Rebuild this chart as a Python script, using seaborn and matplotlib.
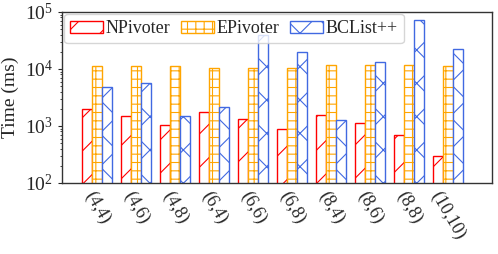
import matplotlib
matplotlib.use("Agg")
import matplotlib.pyplot as plt
import matplotlib.ticker as mticker
import seaborn as sns
import pandas as pd
from matplotlib.patches import Patch

categories = ["(4,4)", "(4,6)", "(4,8)", "(6,4)", "(6,6)", "(6,8)", "(8,4)", "(8,6)", "(8,8)", "(10,10)"]
npivoter = [2000, 1520, 1050, 1780, 1340, 890, 1550, 1120, 700, 300]
epivoter = [11200, 11200, 11200, 10500, 10500, 10500, 11700, 11700, 11700, 11200]
bclist = [4900, 5600, 1520, 2180, 40000, 19500, 1260, 13200, 71000, 22000]
series = ["NPivoter", "EPivoter", "BCList++"]

df = pd.DataFrame({
    "cat": categories * 3,
    "val": npivoter + epivoter + bclist,
    "method": [series[0]] * 10 + [series[1]] * 10 + [series[2]] * 10,
})

sns.set_style("ticks")
plt.rcParams["font.family"] = ["Liberation Serif", "DejaVu Serif"]
plt.rcParams["font.serif"] = ["Liberation Serif", "DejaVu Serif"]
plt.rcParams["mathtext.fontset"] = "custom"
plt.rcParams["mathtext.rm"] = "Liberation Serif"
plt.rcParams["hatch.linewidth"] = 0.8

colors = ["red", "orange", "royalblue"]
hatches = ["/", "++", "x"]

fig, ax = plt.subplots(figsize=(4.98, 2.54), dpi=100)
sns.barplot(data=df, x="cat", y="val", hue="method", palette=colors, ax=ax,
            width=0.77, legend=False, linewidth=1.0)
ax.set_yscale("log")

for cont, col, h in zip(ax.containers, colors, hatches):
    for p in cont:
        p.set_hatch(h)
        p.set_edgecolor(col)
        p.set_facecolor("white")
        p.set_linewidth(1.0)

handles = [Patch(facecolor="white", edgecolor=c, hatch=h, label=s, linewidth=1.0)
           for c, h, s in zip(colors, hatches, series)]
ax.legend(handles=handles, loc="upper left", ncol=3, fontsize=13, handlelength=1.8,
          handleheight=0.65, handletextpad=0.15, columnspacing=0.6, borderpad=0.35,
          borderaxespad=0.1, frameon=True, fancybox=True, framealpha=0.8,
          edgecolor="#cccccc")

ax.set_ylim(100, 100000)
ax.set_xlim(-0.9, 10.12)
ax.set_xlabel("")
ax.set_ylabel("Time (ms)", fontsize=14)
ax.yaxis.set_minor_locator(mticker.LogLocator(base=10, subs=range(2, 10)))
ax.yaxis.set_minor_formatter(mticker.NullFormatter())
ax.tick_params(axis="y", labelsize=14, length=3, width=0.8, which="major", left=True)
ax.tick_params(axis="y", which="minor", left=True, length=1.5, width=0.6)
ax.set_xticks(range(len(categories)))
ax.set_xticklabels(categories, rotation=-60, ha="center", fontsize=13)
ax.tick_params(axis="x", length=0, pad=4)
for s in ax.spines.values():
    s.set_color("#333333")
    s.set_linewidth(1.0)

fig.subplots_adjust(left=0.125, right=0.988, top=0.953, bottom=0.28)
fig.savefig("out.png", dpi=100)
